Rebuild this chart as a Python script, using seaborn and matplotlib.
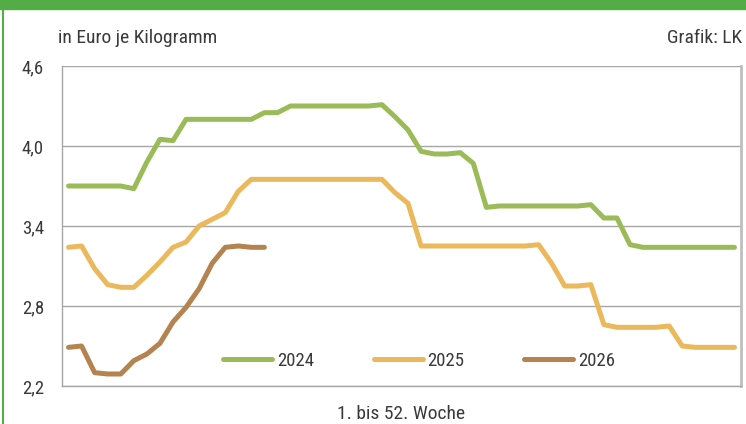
import pandas as pd
import matplotlib.pyplot as plt
import seaborn as sns
import numpy as np

# Wochenpreise in Euro je Kilogramm
weeks_2024 = list(range(1, 53))
prices_2024 = [3.70, 3.70, 3.70, 3.70, 3.70, 3.68, 3.88, 4.05, 4.04, 4.20,
               4.20, 4.20, 4.20, 4.20, 4.20, 4.25, 4.25, 4.30, 4.30, 4.30,
               4.30, 4.30, 4.30, 4.30, 4.31, 4.22, 4.12, 3.96, 3.94, 3.94,
               3.95, 3.87, 3.54, 3.55, 3.55, 3.55, 3.55, 3.55, 3.55, 3.55,
               3.56, 3.46, 3.46, 3.26, 3.24, 3.24, 3.24, 3.24, 3.24, 3.24,
               3.24, 3.24]

weeks_2025 = list(range(1, 53))
prices_2025 = [3.24, 3.25, 3.08, 2.96, 2.94, 2.94, 3.03, 3.13, 3.24, 3.28,
               3.40, 3.45, 3.50, 3.66, 3.75, 3.75, 3.75, 3.75, 3.75, 3.75,
               3.75, 3.75, 3.75, 3.75, 3.75, 3.65, 3.57, 3.25, 3.25, 3.25,
               3.25, 3.25, 3.25, 3.25, 3.25, 3.25, 3.26, 3.12, 2.95, 2.95,
               2.96, 2.66, 2.64, 2.64, 2.64, 2.64, 2.65, 2.50, 2.49, 2.49,
               2.49, 2.49]

weeks_2026 = list(range(1, 17))
prices_2026 = [2.49, 2.50, 2.30, 2.29, 2.29, 2.39, 2.44, 2.52, 2.68, 2.79,
               2.93, 3.12, 3.24, 3.25, 3.24, 3.24]

years = ['2024', '2025', '2026']
colors = ['#9BBB59', '#EBB85B', '#B5834F']
y_ticks = [2.2, 2.8, 3.4, 4.0, 4.6]

df = pd.concat([
    pd.DataFrame({'Woche': weeks_2024, 'Preis': prices_2024, 'Jahr': '2024'}),
    pd.DataFrame({'Woche': weeks_2025, 'Preis': prices_2025, 'Jahr': '2025'}),
    pd.DataFrame({'Woche': weeks_2026, 'Preis': prices_2026, 'Jahr': '2026'}),
])

sns.set_style("white")
plt.rcParams['font.family'] = ['Roboto Condensed', 'Liberation Sans Narrow', 'Roboto', 'DejaVu Sans']
txt_color = '#3A3A3A'

fig = plt.figure(figsize=(7.46, 4.24), dpi=100)
ax = fig.add_axes([62 / 746, 1 - 386 / 424, 679 / 746, 320 / 424])

sns.lineplot(data=df, x='Woche', y='Preis', hue='Jahr', hue_order=years,
             palette=colors, linewidth=3.6, ax=ax, legend=True)
for line in ax.get_lines():
    line.set_solid_capstyle('round')
    line.set_solid_joinstyle('round')

ax.set_xlim(0.5, 52.5)
ax.set_ylim(2.2, 4.6)
ax.set_yticks(y_ticks)
ax.set_yticklabels([f'{v:.1f}'.replace('.', ',') for v in y_ticks])
ax.set_xticks([])
ax.tick_params(axis='y', length=5, width=1, color='#A6A6A6', labelsize=13.5,
               labelcolor=txt_color, pad=8)
ax.grid(axis='y', color='#A6A6A6', linewidth=1)
ax.set_axisbelow(True)

for side in ['left', 'bottom']:
    ax.spines[side].set_color('#A6A6A6')
    ax.spines[side].set_linewidth(1)
ax.spines['right'].set_color('#BFBFBF')
ax.spines['right'].set_linewidth(2)
ax.spines['top'].set_visible(False)

ax.set_ylabel('')
ax.set_xlabel('1. bis 52. Woche', fontsize=14, color=txt_color, labelpad=14)

leg = ax.legend(loc='center', bbox_to_anchor=(0.526, 0.078), ncol=3,
                frameon=False, fontsize=13.5, handlelength=2.6,
                handletextpad=0.25, columnspacing=3.2)
for text in leg.get_texts():
    text.set_color(txt_color)

# Rahmen und Kopfzeile
fig.patches.append(plt.Rectangle((0, 1 - 9 / 424), 1, 9 / 424,
                                 transform=fig.transFigure, color='#54AC47'))
fig.lines.append(plt.Line2D([3 / 746, 3 / 746], [0, 1], transform=fig.transFigure,
                            color='#54AC47', linewidth=1.5))

fig.text(58 / 746, 1 - 43 / 424, 'in Euro je Kilogramm', fontsize=14,
         color=txt_color, ha='left', va='baseline')
fig.text(742 / 746, 1 - 43 / 424, 'Grafik: LK', fontsize=14,
         color=txt_color, ha='right', va='baseline')

plt.savefig('out.png', dpi=100)
plt.close()
